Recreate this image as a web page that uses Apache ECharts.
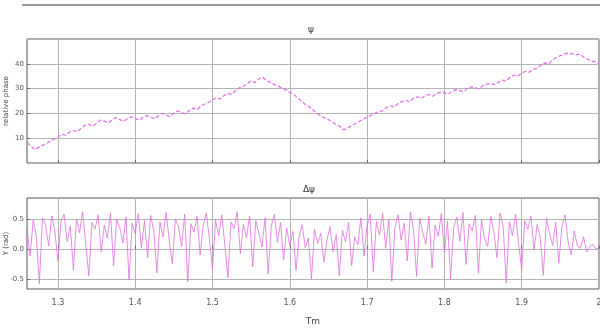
<!DOCTYPE html>
<html>
<head>
<meta charset="utf-8">
<script src="https://cdn.jsdelivr.net/npm/echarts@6/dist/echarts.min.js"></script>
<style>
  html, body { margin: 0; padding: 0; background: #fff; }
  #chart { width: 600px; height: 328px; }
</style>
</head>
<body>
<div id="chart"></div>
<script>
// time axis
var tStart = 1.26;
var tEnd = 2.0;
var tTicks = [1.3, 1.4, 1.5, 1.6, 1.7, 1.8, 1.9, 2.0];

// top panel: phase, sampled every 0.005
var phaseStep = 0.005;
var phase = [
    8.2, 6.9, 5.4, 6.3, 7.1, 7.8, 8.9, 9.6, 10.4, 11.6,
    11.2, 12.4, 13.1, 12.6, 13.9, 15.2, 15.6, 14.8, 16.0, 17.3,
    16.9, 16.2, 17.4, 18.3, 17.5, 16.8, 17.9, 18.6, 18.0, 17.2,
    18.4, 19.1, 18.5, 17.8, 19.0, 20.0, 19.4, 18.7, 20.1, 21.0,
    20.3, 19.8, 21.2, 22.1, 21.6, 22.9, 23.8, 24.4, 25.5, 26.3,
    25.8, 27.2, 28.1, 27.6, 29.3, 30.4, 30.9, 32.0, 33.1, 32.4,
    34.0, 34.6, 33.2, 32.5, 31.6, 31.0, 30.1, 29.5, 28.4, 27.8,
    26.2, 25.0, 23.6, 22.7, 21.4, 20.1, 19.0, 18.2, 17.5, 16.4,
    15.6, 14.7, 13.4, 14.1, 15.2, 15.9, 16.8, 17.6, 18.6, 19.2,
    20.1, 20.7, 21.0, 22.4, 23.1, 22.6, 24.0, 24.8, 25.3, 24.7,
    26.1, 26.7, 26.0, 27.2, 27.6, 26.9, 28.0, 28.6, 28.3, 27.7,
    29.0, 29.6, 29.2, 28.8, 30.1, 30.7, 30.4, 29.9, 31.2, 31.8,
    32.1, 31.5, 32.6, 33.4, 33.0, 34.6, 35.4, 35.1, 36.2, 37.0,
    36.6, 37.8, 38.2, 39.5, 40.4, 40.0, 41.6, 42.5, 43.3, 43.9,
    44.3, 44.1, 43.6, 43.9, 42.7, 41.9, 41.2, 40.8, 40.1
];

// bottom panel: phase difference, sampled every 0.004
var diffStep = 0.004;
var diff = [
    0.35, -0.12, 0.48, 0.22, -0.58, 0.52, 0.41, 0.05, 0.55, 0.30,
    -0.20, 0.46, 0.58, 0.12, 0.38, -0.35, 0.50, 0.27, 0.62, 0.08,
    -0.45, 0.44, 0.33, 0.57, -0.05, 0.40, 0.18, 0.60, -0.28, 0.49,
    0.36, 0.10, 0.53, -0.52, 0.43, 0.25, 0.59, 0.02, 0.47, -0.15,
    0.56, 0.31, -0.40, 0.45, 0.20, 0.61, 0.14, -0.25, 0.50, 0.37,
    0.04, 0.58, -0.55, 0.42, 0.28, 0.54, -0.10, 0.39, 0.60, 0.16,
    -0.33, 0.48, 0.22, 0.57, 0.06, -0.48, 0.45, 0.34, 0.62, -0.08,
    0.41, 0.19, 0.55, -0.30, 0.47, 0.26, 0.03, 0.52, -0.42, 0.38,
    0.58, 0.11, 0.44, -0.18, 0.35, 0.05, 0.29, -0.36, 0.21, 0.40,
    0.02, 0.18, -0.50, 0.33, 0.09, 0.26, -0.22, 0.14, 0.37, -0.05,
    0.24, -0.45, 0.31, 0.12, 0.44, -0.28, 0.20, 0.07, 0.52, -0.12,
    0.39, 0.58, -0.38, 0.46, 0.23, 0.60, 0.01, 0.49, -0.54, 0.35,
    0.57, 0.15, 0.43, -0.20, 0.62, 0.32, -0.46, 0.51, 0.27, 0.08,
    0.55, -0.32, 0.40, 0.21, 0.59, -0.06, 0.46, -0.50, 0.36, 0.53,
    0.13, 0.61, -0.26, 0.42, 0.30, 0.56, -0.41, 0.48, 0.17, 0.04,
    0.54, 0.29, -0.15, 0.60, 0.38, -0.57, 0.45, 0.22, 0.58, 0.09,
    -0.34, 0.47, 0.33, 0.55, -0.02, 0.41, 0.19, -0.44, 0.52, 0.26,
    0.06, 0.44, -0.24, 0.37, 0.57, 0.12, -0.10, 0.30, 0.05, 0.01,
    0.20, -0.05, 0.03, 0.08, 0.00, 0.02
];
var diffTicks = [-0.5, 0, 0.5];

function toPairs(arr, step) {
    return arr.map(function(v, i) {
        return [+(tStart + i * step).toFixed(4), v];
    });
}

var dom = document.getElementById("chart");
var myChart = echarts.init(dom, null, { renderer: 'canvas' });

var font = 'DejaVu Sans';
var lineColor = '#e070e0';
var gridColor = '#b4b4b4';

function xAxisFor(idx, showLabels) {
    return {
        type: 'value',
        gridIndex: idx,
        min: tStart,
        max: tEnd,
        axisLine: { show: false },
        axisTick: { show: true, inside: true, length: 3, customValues: tTicks, lineStyle: { color: '#666' } },
        axisLabel: {
            show: showLabels,
            customValues: tTicks,
            fontFamily: font,
            fontSize: 8,
            color: '#555',
            margin: 10
        },
        splitLine: { show: true, lineStyle: { color: gridColor, width: 1 } },
        name: showLabels ? 'Tm' : '',
        nameLocation: 'middle',
        nameGap: 28,
        nameMoveOverlap: false,
        nameTextStyle: { fontFamily: font, fontSize: 9, color: '#444' }
    };
}

option = {
    animation: false,
    backgroundColor: '#fff',
    title: [
        { text: 'ψ', left: 306, top: 20, textAlign: 'center',
          textStyle: { fontFamily: font, fontSize: 9, fontWeight: 'normal', color: '#333' } },
        { text: 'Δψ', left: 304, top: 180, textAlign: 'center',
          textStyle: { fontFamily: font, fontSize: 9, fontWeight: 'normal', color: '#333' } }
    ],
    graphic: [
        { type: 'line', shape: { x1: 22, y1: 5, x2: 600, y2: 5 },
          style: { stroke: '#777', lineWidth: 1.5 } }
    ],
    grid: [
        { left: 27, right: 1, top: 39, height: 124, outerBoundsMode: 'none', containLabel: false,
          show: true, borderColor: '#555', borderWidth: 1, backgroundColor: '#fff' },
        { left: 27, right: 1, top: 198, height: 91, outerBoundsMode: 'none', containLabel: false,
          show: true, borderColor: '#555', borderWidth: 1, backgroundColor: '#fff' }
    ],
    xAxis: [xAxisFor(0, false), xAxisFor(1, true)],
    yAxis: [
        {
            type: 'value',
            gridIndex: 0,
            min: 0,
            max: 50,
            interval: 10,
            axisLine: { show: false },
            axisTick: { show: true, inside: true, length: 3, lineStyle: { color: '#666' } },
            axisLabel: { showMinLabel: false, showMaxLabel: false, fontFamily: font, fontSize: 7, color: '#555', margin: 3 },
            splitLine: { show: true, lineStyle: { color: gridColor, width: 1 } },
            name: 'relative phase',
            nameLocation: 'middle',
            nameGap: 17,
            nameMoveOverlap: false,
            nameTextStyle: { fontFamily: font, fontSize: 7, color: '#444' }
        },
        {
            type: 'value',
            gridIndex: 1,
            min: -0.67,
            max: 0.85,
            axisLine: { show: false },
            axisTick: { show: true, inside: true, length: 3, customValues: diffTicks, lineStyle: { color: '#666' } },
            axisLabel: {
                customValues: diffTicks,
                fontFamily: font, fontSize: 7, color: '#555', margin: 3,
                formatter: function(v) { return v.toFixed(1); }
            },
            splitLine: { show: true, lineStyle: { color: gridColor, width: 1 } },
            name: 'Y (rad)',
            nameLocation: 'middle',
            nameGap: 17,
            nameMoveOverlap: false,
            nameTextStyle: { fontFamily: font, fontSize: 7, color: '#444' }
        }
    ],
    series: [
        {
            name: 'phase',
            type: 'line',
            xAxisIndex: 0,
            yAxisIndex: 0,
            data: toPairs(phase, phaseStep),
            showSymbol: false,
            lineStyle: { color: lineColor, width: 1.2, type: [4, 2] }
        },
        {
            name: 'diff',
            type: 'line',
            xAxisIndex: 1,
            yAxisIndex: 1,
            data: toPairs(diff, diffStep),
            showSymbol: false,
            lineStyle: { color: lineColor, width: 0.8 }
        }
    ]
};

if (option && typeof option === "object") {
    myChart.setOption(option, true);
}
</script>
</body>
</html>
